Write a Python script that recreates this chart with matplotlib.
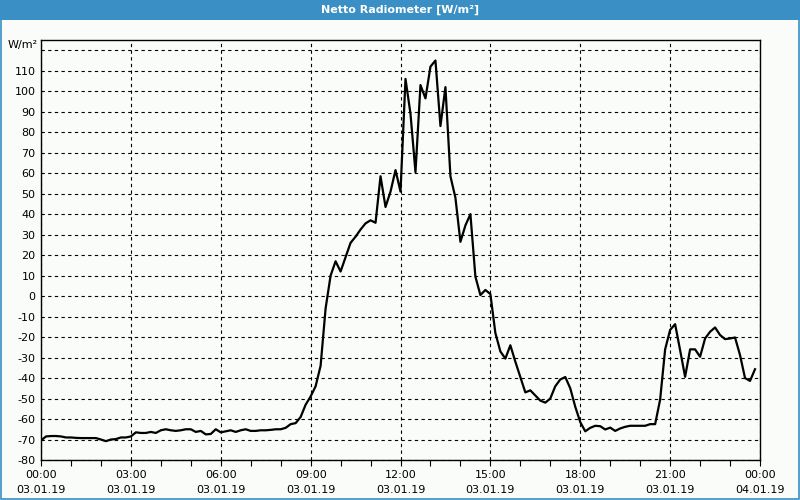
import pandas as pd
import matplotlib
matplotlib.use('Agg')
import matplotlib.pyplot as plt
import matplotlib.dates as mdates
from matplotlib.patches import Rectangle

# Netto radiometer readings, 10 minute samples from 03.01.19 00:00
start = '2019-01-03 00:00'
end = '2019-01-04 00:00'
values = [
    -70.5, -68.5, -68.3, -68.3, -68.5, -69.0, -69.0, -69.2, -69.3, -69.3,
    -69.3, -69.3, -70.0, -70.8, -70.0, -69.8, -69.0, -69.0, -68.5, -66.5,
    -66.8, -66.8, -66.3, -66.8, -65.5, -65.0, -65.5, -65.8, -65.5, -65.0,
    -65.0, -66.3, -65.8, -67.5, -67.3, -65.0, -66.5, -66.0, -65.5, -66.3,
    -65.5, -65.0, -65.8, -65.8, -65.5, -65.5, -65.3, -65.0, -65.0, -64.3,
    -62.5, -62.0, -59.0, -53.0, -49.0, -44.0, -34.0, -6.0, 10.0, 17.0,
    12.0, 19.0, 26.0, 29.0, 32.5, 35.5, 37.0, 35.8, 58.5, 43.5,
    51.0, 61.5, 51.0, 106.0, 89.0, 60.5, 103.0, 96.5, 112.0, 115.0,
    83.0, 102.0, 58.5, 48.0, 26.5, 34.5, 40.0, 9.5, 0.5, 3.0,
    1.0, -18.0, -27.0, -30.5, -24.0, -32.0, -39.5, -47.0, -46.0, -48.5,
    -51.0, -52.0, -50.0, -44.0, -40.7, -39.5, -45.0, -54.0, -61.5, -66.0,
    -64.3, -63.3, -63.5, -65.1, -64.2, -65.8, -64.6, -63.8, -63.3, -63.3,
    -63.3, -63.3, -62.5, -62.5, -50.5, -26.0, -16.5, -13.7, -26.4, -39.4,
    -26.0, -26.0, -29.6, -20.7, -17.4, -15.3, -19.0, -21.0, -20.7, -20.2,
    -28.8, -40.0, -41.4, -35.7,
]
times = pd.date_range(start, periods=len(values), freq='10min')
yticks = list(range(-80, 121, 10))
ylabels = [str(v) for v in yticks[:-1]] + ['']

bg = '#f9fcf9'
blue = '#3a8fc4'

fig = plt.figure(figsize=(8, 5), dpi=100, facecolor=bg)
ax = fig.add_axes([41 / 800, 40 / 500, 719 / 800, 420 / 500])
ax.set_facecolor(bg)

ax.plot(times, values, color='black', linewidth=1.6)

ax.set_xlim(pd.Timestamp(start), pd.Timestamp(end))
ax.set_ylim(-80, 125)
ax.set_yticks(yticks)
ax.set_yticklabels(ylabels)
ax.xaxis.set_major_locator(mdates.HourLocator(byhour=range(0, 24, 3)))
ax.xaxis.set_minor_locator(mdates.HourLocator())
ax.xaxis.set_major_formatter(mdates.DateFormatter('%H:%M\n%d.%m.%y'))

ax.grid(True, which='major', color='black', linestyle=(0, (3, 3)), linewidth=0.8)
ax.tick_params(axis='y', length=0, pad=4, labelsize=8)
ax.tick_params(axis='x', which='major', length=4, width=0.8, pad=3, labelsize=8)
ax.tick_params(axis='x', which='minor', length=4, width=0.8)
for lab in ax.get_xticklabels():
    lab.set_linespacing(1.6)
for s in ax.spines.values():
    s.set_color('black')
    s.set_linewidth(1.0)

fig.text(38 / 800, 1 - 45 / 500, 'W/m²', ha='right', va='center', fontsize=8)

# window frame with title bar
fig.patches.append(Rectangle((0, 1 - 20 / 500), 1, 20 / 500, transform=fig.transFigure,
                             facecolor=blue, edgecolor='none', zorder=0))
fig.patches.append(Rectangle((0.6 / 800, 0.6 / 500), 798.8 / 800, 498.8 / 500, transform=fig.transFigure,
                             facecolor='none', edgecolor=blue, linewidth=1.2, zorder=0))
fig.text(0.5, 1 - 10 / 500, 'Netto Radiometer [W/m²]', ha='center', va='center',
         color='white', fontsize=8, fontweight='bold')

fig.savefig('out.png', dpi=100, facecolor=bg)
